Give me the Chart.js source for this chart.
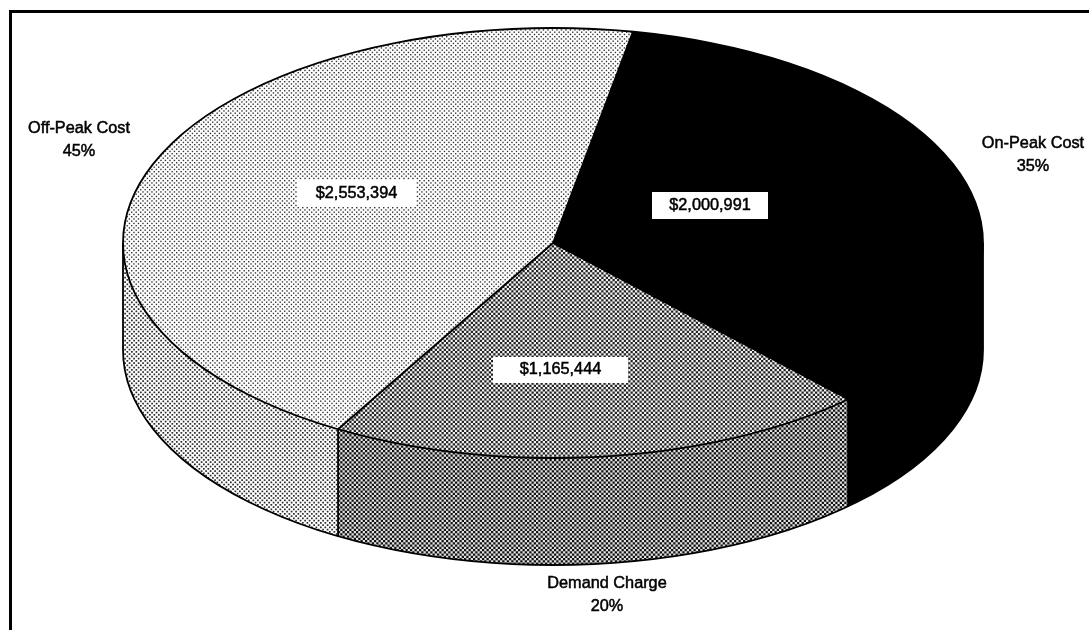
<!DOCTYPE html>
<html>
<head>
<meta charset="utf-8">
<title>Cost breakdown</title>
<script src="https://cdn.jsdelivr.net/npm/chart.js@4/dist/chart.umd.min.js"></script>
<style>
    html, body { margin: 0; padding: 0; background: #fff; overflow: hidden; }
    #frame { position: absolute; left: 9px; top: 10px; right: 0; bottom: 0; border-left: 3px solid #000; border-top: 3px solid #000; }
    #chart { position: absolute; left: 0; top: 0; }
</style>
</head>
<body>
<div id="frame"></div>
<canvas id="chart" width="1089" height="630"></canvas>
<script>
// ── Data ─────────────────────────────────────────────────────────────────────

const categories = ['On-Peak Cost', 'Demand Charge', 'Off-Peak Cost'];
const costs      = [2000991, 1165444, 2553394];
const percents   = ['35%', '20%', '45%'];

// ── Drawing settings ─────────────────────────────────────────────────────────

const STRETCH_X = 2;     // pie is drawn round, then stretched into the tilted ellipse
const DEPTH     = 107;   // height of the disc wall
const INK       = '#000';
const FONT      = '16.3px "Liberation Sans", Arial, sans-serif';

// name label centre (two lines), same order as categories
const namePos  = [[1033, 144, 167], [607, 584, 607], [79, 129, 152]];
// white value box: left, top, width, height
const valueBox = [[652, 192, 116, 27], [493, 357, 135, 26], [297, 180, 119, 27]];

// ── Halftone patterns ────────────────────────────────────────────────────────

function newTile() {
    const c = document.createElement('canvas');
    c.width = 9;
    c.height = 9;
    return c;
}

function finishPattern(tile) {
    const p = tile.getContext('2d').createPattern(tile, 'repeat');
    // undo the stretch so the dots stay square on screen
    p.setTransform(new DOMMatrix().scale(1 / STRETCH_X, 1));
    return p;
}

function dotPattern(dot, dark) {
    const tile = newTile();
    const g = tile.getContext('2d');
    g.fillStyle = '#fff';
    g.fillRect(0, 0, 9, 9);
    g.fillStyle = dark;
    for (let i = 0; i < 4; i++) {
        for (let j = 0; j < 4; j++) {
            if ((i + j) % 2 === 0) g.fillRect(i * 2.25, j * 2.25, dot, dot);
        }
    }
    return finishPattern(tile);
}

function checkPattern(base, dark) {
    const tile = newTile();
    const g = tile.getContext('2d');
    g.fillStyle = base;
    g.fillRect(0, 0, 9, 9);
    g.fillStyle = dark;
    for (let i = 0; i < 4; i++) {
        for (let j = 0; j < 4; j++) {
            if ((i + j) % 2 === 0) g.fillRect(i * 2.25, j * 2.25, 2.25, 2.25);
        }
    }
    return finishPattern(tile);
}

const topFills  = [INK, checkPattern('#f4f4f4', '#222'), dotPattern(1.4, '#333')];
const wallFills = [INK, checkPattern('#e2e2e2', '#111'), dotPattern(1.7, '#2a2a2a')];

// ── Plugin: stretch the pie, add the wall, outlines and labels ───────────────

const tiltedPie = {
    id: 'tiltedPie',
    beforeDatasetsDraw(chart) {
        const ctx = chart.ctx;
        const arcs = chart.getDatasetMeta(0).data;
        const cx = arcs[0].x;
        ctx.save();
        ctx.translate(cx, 0);
        ctx.scale(STRETCH_X, 1);
        ctx.translate(-cx, 0);
        for (let dy = DEPTH; dy > 0; dy--) {
            arcs.forEach((arc, i) => {
                const layer = Object.create(arc);
                layer.y = arc.y + dy;
                layer.options = Object.assign({}, arc.options, { backgroundColor: wallFills[i] });
                Chart.ArcElement.prototype.draw.call(layer, ctx);
            });
        }
    },
    afterDatasetsDraw(chart) {
        const ctx = chart.ctx;
        ctx.restore();

        const arcs = chart.getDatasetMeta(0).data;
        const cx = arcs[0].x;
        const cy = arcs[0].y;
        const ry = arcs[0].outerRadius;
        const rx = ry * STRETCH_X;

        ctx.save();
        ctx.strokeStyle = INK;
        ctx.lineWidth = 1.8;

        // top face and bottom rim
        ctx.beginPath();
        ctx.ellipse(cx, cy, rx, ry, 0, 0, Math.PI * 2);
        ctx.stroke();
        ctx.beginPath();
        ctx.ellipse(cx, cy + DEPTH, rx, ry, 0, 0, Math.PI);
        ctx.stroke();

        // outer sides of the wall
        ctx.beginPath();
        ctx.moveTo(cx - rx, cy);
        ctx.lineTo(cx - rx, cy + DEPTH);
        ctx.moveTo(cx + rx, cy);
        ctx.lineTo(cx + rx, cy + DEPTH);
        ctx.stroke();

        // slice edges, and the wall seam where an edge faces front
        arcs.forEach(arc => {
            const ex = cx + rx * Math.cos(arc.endAngle);
            const ey = cy + ry * Math.sin(arc.endAngle);
            ctx.beginPath();
            ctx.moveTo(cx, cy);
            ctx.lineTo(ex, ey);
            if (Math.sin(arc.endAngle) > 0) ctx.lineTo(ex, ey + DEPTH);
            ctx.stroke();
        });
        ctx.restore();

        // labels
        ctx.save();
        ctx.font = FONT;
        ctx.textAlign = 'center';
        ctx.textBaseline = 'middle';
        ctx.lineWidth = 0.5;
        ctx.strokeStyle = INK;
        categories.forEach((name, i) => {
            const [lx, y1, y2] = namePos[i];
            const [bx, by, bw, bh] = valueBox[i];
            const money = '$' + costs[i].toLocaleString('en-US');

            ctx.fillStyle = '#fff';
            ctx.fillRect(bx, by, bw, bh);

            ctx.fillStyle = INK;
            [[name, lx, y1], [percents[i], lx, y2], [money, bx + bw / 2, by + bh / 2]].forEach(([t, x, y]) => {
                ctx.fillText(t, x, y);
                ctx.strokeText(t, x, y);
            });
        });
        ctx.restore();
    }
};

// ── Chart ────────────────────────────────────────────────────────────────────

new Chart(document.getElementById('chart'), {
    type: 'pie',
    data: {
        labels: categories,
        datasets: [{
            data: costs,
            backgroundColor: topFills,
            borderWidth: 0,
            clip: false
        }]
    },
    options: {
        responsive: false,
        animation: false,
        rotation: 10.7,
        layout: { padding: { left: 338, right: 321, top: 28, bottom: 172 } },
        plugins: {
            legend: { display: false },
            tooltip: { enabled: false }
        }
    },
    plugins: [tiltedPie]
});
</script>
</body>
</html>
